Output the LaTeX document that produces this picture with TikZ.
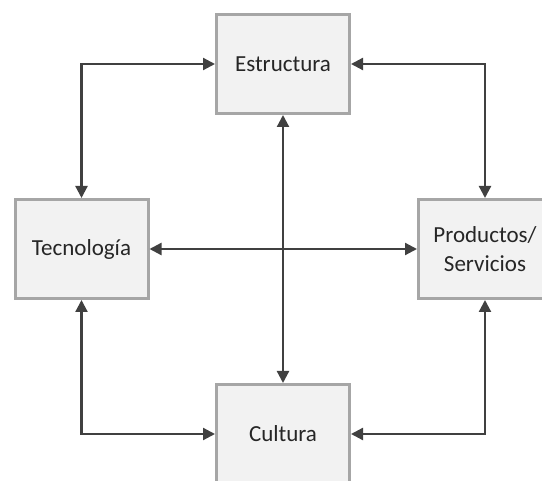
\documentclass[tikz,border=0pt]{standalone}
\usepackage{fontspec}
\setmainfont{Carlito}
\usetikzlibrary{arrows.meta,positioning}
\definecolor{boxfill}{HTML}{F2F2F2}
\definecolor{boxline}{HTML}{A6A6A6}
\definecolor{linkgray}{HTML}{404040}
\definecolor{labelgray}{HTML}{262626}

\begin{document}
\begin{tikzpicture}[x=1pt, y=-1pt,
  block/.style={draw=boxline, line width=3pt, fill=boxfill, minimum width=133pt, minimum height=99pt, align=center, text=labelgray, font=\fontsize{23}{29}\selectfont},
  link/.style={draw=linkgray, line width=2.2pt, {Triangle[length=12pt,width=12pt]}-{Triangle[length=12pt,width=12pt]}}
]
\useasboundingbox (0,0) rectangle (542,481);
\clip (0,0) rectangle (542,481);
\node[block] (est) at (283,64) {Estructura};
\node[block] (tec) at (81.5,249) {Tecnología};
\node[block] (prod) at (485,249) {Productos/\\Servicios};
\node[block] (cul) at (283,434) {Cultura};
\draw[link] (est.west) -| (tec.north);
\draw[link] (est.east) -| (prod.north);
\draw[link] (tec.south) |- (cul.west);
\draw[link] (prod.south) |- (cul.east);
\draw[link] (est.south) -- (cul.north);
\draw[link] (tec.east) -- (prod.west);
\end{tikzpicture}
\end{document}
